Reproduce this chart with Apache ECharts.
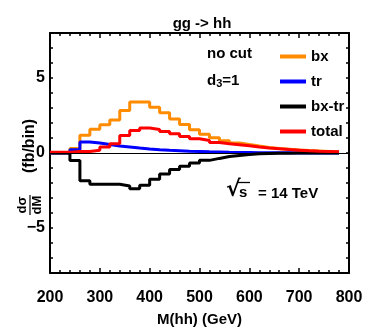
<!DOCTYPE html>
<html>
<head>
<meta charset="utf-8">
<script src="https://cdn.jsdelivr.net/npm/echarts@6/dist/echarts.min.js"></script>
<style>
  html, body { margin: 0; padding: 0; background: #fff; }
  #chart { width: 374px; height: 332px; }
</style>
</head>
<body>
<div id="chart"></div>
<script>
// lower bin edges, 20 GeV bins
const binEdges = [200, 220, 240, 260, 280, 300, 320, 340, 360, 380, 400, 420, 440, 460, 480,
  500, 520, 540, 560, 580, 600, 620, 640, 660, 680, 700, 720, 740, 760]
const lastEdge = 780

const bx = [0, 0, 0.3, 1.18, 1.58, 1.88, 2.2, 2.83, 3.4, 3.4, 3.05, 2.68, 2.27, 1.9, 1.55,
  1.25, 1.02, 0.82, 0.67, 0.56, 0.46, 0.37, 0.3, 0.25, 0.2, 0.16, 0.13, 0.1, 0.08]
const tr = [0, 0, 0.22, 0.73, 0.66, 0.56, 0.46, 0.4, 0.33, 0.27, 0.22, 0.18, 0.15, 0.12, 0.1,
  0.08, 0.07, 0.05, 0.04, 0.03, 0.02, 0.015, 0.01, 0.01, 0.005, 0, 0, 0, 0]
const bxtr = [0, 0, -0.5, -1.85, -2.08, -2.08, -2.08, -2.2, -2.38, -2.15, -1.75, -1.4, -1.1, -0.88, -0.66,
  -0.49, -0.36, -0.24, -0.16, -0.1, -0.05, -0.03, -0.02, -0.01, 0, 0, 0, 0, 0]
const total = [0.05, 0.05, 0.1, 0.1, 0.18, 0.4, 0.62, 1.17, 1.5, 1.66, 1.57, 1.43, 1.28, 1.1, 0.95,
  0.84, 0.7, 0.62, 0.55, 0.48, 0.4, 0.33, 0.28, 0.23, 0.19, 0.15, 0.12, 0.1, 0.08]

const xTicks = [200, 300, 400, 500, 600, 700, 800]
const yTicks = [-5, 0, 5]

const FONT = 'Liberation Sans'

// histogram -> step points (close the last bin)
function hist(vals) {
  const pts = binEdges.map((x, i) => [x, vals[i]])
  pts.push([lastEdge, vals[vals.length - 1]])
  return pts
}

function stepSeries(name, vals, color, extra) {
  return Object.assign({
    name: name,
    type: 'line',
    step: 'end',
    data: hist(vals),
    showSymbol: false,
    lineStyle: { color: color, width: 3 },
    itemStyle: { color: color },
    animation: false
  }, extra || {})
}

const chart = echarts.init(document.getElementById('chart'))

const xBase = {
  type: 'value', min: 200, max: 800, interval: 100,
  axisLine: { show: true, onZero: false, lineStyle: { color: '#000', width: 2 } },
  axisTick: { show: true, inside: true, length: 5, lineStyle: { color: '#000', width: 1.5 } },
  minorTick: { show: true, splitNumber: 5, length: 3, lineStyle: { color: '#000', width: 1.5 } },
  splitLine: { show: false }
}
const yBase = {
  type: 'value', min: -8, max: 8, interval: 1,
  axisLine: { show: true, onZero: false, lineStyle: { color: '#000', width: 2 } },
  axisTick: { show: true, inside: true, length: 3, lineStyle: { color: '#000', width: 1.5 } },
  splitLine: { show: false }
}

chart.setOption({
  backgroundColor: '#fff',
  title: {
    text: 'gg -> hh', left: 197, top: 11, textAlign: 'center',
    textStyle: { fontFamily: FONT, fontWeight: 'bold', fontSize: 15, color: '#000' }
  },
  grid: { left: 50, right: 25, top: 33, bottom: 58 },
  legend: {
    orient: 'vertical', left: 275, top: 44, itemGap: 10,
    icon: 'rect', itemWidth: 26, itemHeight: 4,
    textStyle: { fontFamily: FONT, fontWeight: 'bold', fontSize: 15, color: '#000' },
    data: ['bx', 'tr', 'bx-tr', 'total']
  },
  xAxis: [
    Object.assign({}, xBase, {
      position: 'bottom',
      name: 'M(hh) (GeV)', nameLocation: 'middle', nameGap: 39,
      nameTextStyle: { fontFamily: FONT, fontWeight: 'bold', fontSize: 15, color: '#000' },
      axisLabel: {
        margin: 17, fontFamily: FONT, fontWeight: 'bold', fontSize: 16, color: '#000',
        formatter: v => xTicks.includes(v) ? String(v) : ''
      }
    }),
    Object.assign({}, xBase, { position: 'top', axisLabel: { show: false } })
  ],
  yAxis: [
    Object.assign({}, yBase, {
      position: 'left',
      axisLabel: {
        margin: 5, fontFamily: FONT, fontWeight: 'bold', fontSize: 16, color: '#000',
        formatter: v => yTicks.includes(v) ? (v < 0 ? '\u2212' + (-v) : String(v)) : ''
      }
    }),
    Object.assign({}, yBase, { position: 'right', axisLabel: { show: false } })
  ],
  series: [
    stepSeries('bx', bx, '#ff8c00', {
      markLine: {
        silent: true, symbol: ['none', 'none'], label: { show: false },
        lineStyle: { color: '#000', width: 1, type: 'solid' },
        data: [{ yAxis: 0 }]
      }
    }),
    stepSeries('tr', tr, '#0000ff'),
    stepSeries('bx-tr', bxtr, '#000000'),
    stepSeries('total', total, '#ff0000')
  ],
  graphic: [
    { type: 'text', left: 207, top: 46, style: { text: 'no cut', fontFamily: FONT, fontWeight: 'bold', fontSize: 15, fill: '#000' } },
    {
      type: 'text', left: 207, top: 73,
      style: {
        text: 'd{s|3}=1', fontFamily: FONT, fontWeight: 'bold', fontSize: 15, fill: '#000',
        rich: { s: { fontFamily: FONT, fontWeight: 'bold', fontSize: 11, padding: [7, 0, 0, 0] } }
      }
    },
    // sqrt(s) = 14 TeV
    { type: 'text', left: 226, top: 179, style: { text: '\u221A', fontFamily: 'DejaVu Sans', fontWeight: 'bold', fontSize: 22, fill: '#000' } },
    { type: 'line', shape: { x1: 238, y1: 182.5, x2: 250, y2: 182.5 }, style: { stroke: '#000', lineWidth: 1.3 } },
    { type: 'text', left: 239, top: 185, style: { text: 's', fontFamily: FONT, fontWeight: 'bold', fontSize: 15, fill: '#000' } },
    { type: 'text', left: 258, top: 186, style: { text: '= 14 TeV', fontFamily: FONT, fontWeight: 'bold', fontSize: 15, fill: '#000' } },
    // y axis title: d sigma / dM (fb/bin), rotated
    {
      type: 'group', x: 30, y: 155, rotation: Math.PI / 2,
      children: [
        { type: 'text', x: -50, y: -1, style: { text: 'd\u03C3', fontFamily: FONT, fontWeight: 'bold', fontSize: 13, fill: '#000', textAlign: 'center', textVerticalAlign: 'bottom' } },
        { type: 'line', shape: { x1: -60, y1: 0, x2: -40, y2: 0 }, style: { stroke: '#000', lineWidth: 1.2 } },
        { type: 'text', x: -50, y: 1, style: { text: 'dM', fontFamily: FONT, fontWeight: 'bold', fontSize: 13, fill: '#000', textAlign: 'center', textVerticalAlign: 'top' } },
        { type: 'text', x: -18, y: 0, style: { text: '(fb/bin)', fontFamily: FONT, fontWeight: 'bold', fontSize: 16, fill: '#000', textAlign: 'left', textVerticalAlign: 'middle' } }
      ]
    }
  ]
})
</script>
</body>
</html>
